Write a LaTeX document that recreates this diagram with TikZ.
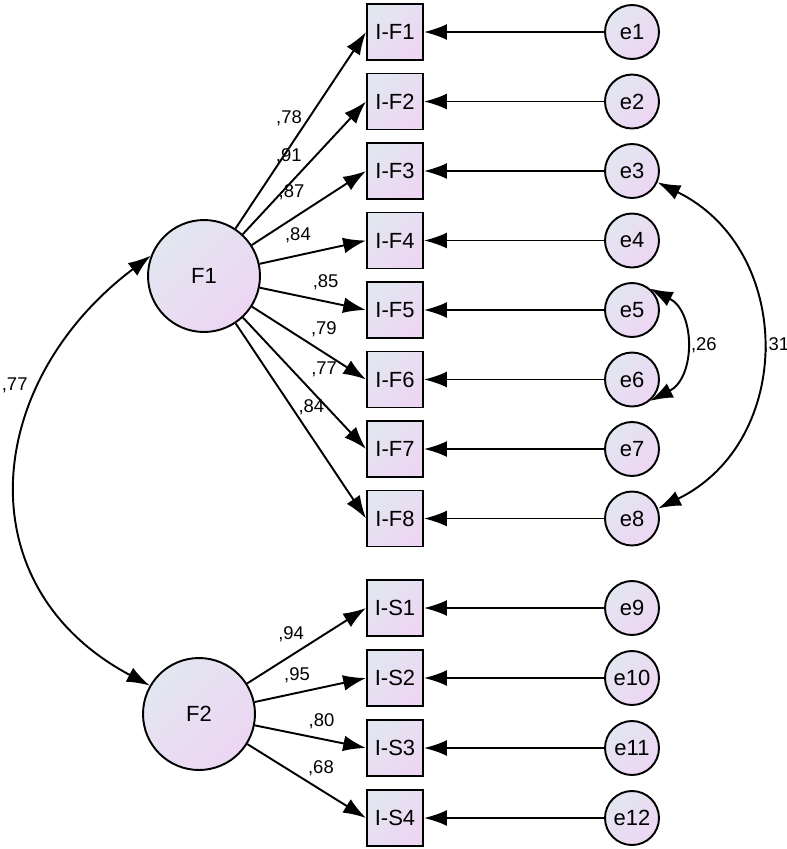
\documentclass[tikz,border=0pt]{standalone}
\usepackage{fontspec}
\setmainfont{Liberation Sans}
\usetikzlibrary{arrows.meta}
\definecolor{fillA}{RGB}{226,230,241}
\definecolor{fillB}{RGB}{237,214,242}
\tikzset{
	grad/.style={top color=fillA, bottom color=fillB, shading angle=45},
	latent/.style={circle, draw, grad, line width=1.1pt, minimum size=2.24cm, inner sep=0pt, font=\fontsize{12.5}{14}\selectfont},
	item/.style={rectangle, draw, grad, line width=1.1pt, minimum size=1.12cm, inner sep=0pt, font=\fontsize{12.5}{14}\selectfont},
	err/.style={circle, draw, grad, line width=1.1pt, minimum size=1.08cm, inner sep=0pt, font=\fontsize{12.5}{14}\selectfont},
	load/.style={line width=1.1pt, -{Latex[length=13pt,width=9pt]}},
	cov/.style={line width=1.1pt, {Latex[length=13pt,width=9pt]}-{Latex[length=13pt,width=9pt]}},
	est/.style={font=\fontsize{10.5}{12}\selectfont}
}
\begin{document}
\begin{tikzpicture}[x=0.02cm, y=-0.02cm]
	\useasboundingbox (0,0) rectangle (787,849);
	% Latent factors
	\node[latent] (F1) at (204,276) {F1};
	\node[latent] (F2) at (199,714) {F2};

	% Observed items
	\node[item] (IF1) at (395,32) {I-F1};
	\node[item] (IF2) at (395,101.5) {I-F2};
	\node[item] (IF3) at (395,171) {I-F3};
	\node[item] (IF4) at (395,240.5) {I-F4};
	\node[item] (IF5) at (395,310) {I-F5};
	\node[item] (IF6) at (395,379.5) {I-F6};
	\node[item] (IF7) at (395,449) {I-F7};
	\node[item] (IF8) at (395,518.5) {I-F8};
	\node[item] (IS1) at (395,608) {I-S1};
	\node[item] (IS2) at (395,678) {I-S2};
	\node[item] (IS3) at (395,748) {I-S3};
	\node[item] (IS4) at (395,818) {I-S4};

	% Error terms
	\node[err] (e1) at (632,32) {e1};
	\node[err] (e2) at (632,101.5) {e2};
	\node[err] (e3) at (632,171) {e3};
	\node[err] (e4) at (632,240.5) {e4};
	\node[err] (e5) at (632,310) {e5};
	\node[err] (e6) at (632,379.5) {e6};
	\node[err] (e7) at (632,449) {e7};
	\node[err] (e8) at (632,518.5) {e8};
	\node[err] (e9) at (632,608) {e9};
	\node[err] (e10) at (632,678) {e10};
	\node[err] (e11) at (632,748) {e11};
	\node[err] (e12) at (632,818) {e12};

	% Loadings of F1
	\draw[load] (F1) -- node[est, pos=0.56, left] {,78} (IF1.west);
	\draw[load] (F1) -- node[est, pos=0.59, left=4pt] {,91} (IF2.west);
	\draw[load] (F1) -- node[est, pos=0.52, above left] {,87} (IF3.west);
	\draw[load] (F1) -- node[est, pos=0.36, above=3pt] {,84} (IF4.west);
	\draw[load] (F1) -- node[est, pos=0.62, above=3pt] {,85} (IF5.west);
	\draw[load] (F1) -- node[est, pos=0.63, above=5pt] {,79} (IF6.west);
	\draw[load] (F1) -- node[est, pos=0.5, above right=0pt] {,77} (IF7.west);
	\draw[load] (F1) -- node[est, pos=0.43, right] {,84} (IF8.west);

	% Loadings of F2
	\draw[load] (F2) -- node[est, pos=0.37, above=4pt] {,94} (IS1.west);
	\draw[load] (F2) -- node[est, pos=0.38, above=2pt] {,95} (IS2.west);
	\draw[load] (F2) -- node[est, pos=0.6, above=2pt] {,80} (IS3.west);
	\draw[load] (F2) -- node[est, pos=0.62, above=4pt] {,68} (IS4.west);

	% Errors to items
	\draw[load] (e1) -- (IF1);
	\draw[load] (e2) -- (IF2);
	\draw[load] (e3) -- (IF3);
	\draw[load] (e4) -- (IF4);
	\draw[load] (e5) -- (IF5);
	\draw[load] (e6) -- (IF6);
	\draw[load] (e7) -- (IF7);
	\draw[load] (e8) -- (IF8);
	\draw[load] (e9) -- (IS1);
	\draw[load] (e10) -- (IS2);
	\draw[load] (e11) -- (IS3);
	\draw[load] (e12) -- (IS4);

	% Covariances
	\draw[cov] (F1.159) to[out=217, in=152, looseness=1.25] node[est, pos=0.3, left=4pt] {,77} (F2.150);
	\draw[cov] (e3.-24) to[out=-26, in=26, looseness=1.2] node[est, right, inner sep=1pt] {,31} (e8.21);
	\draw[cov] (e5.50) to[out=-27, in=27, looseness=1.17] node[est, right] {,26} (e6.-50);
\end{tikzpicture}
\end{document}
